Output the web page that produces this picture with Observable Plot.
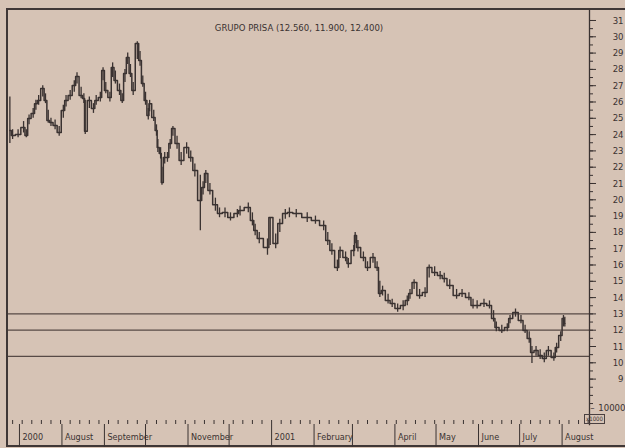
<!DOCTYPE html>
<html>
<head>
<meta charset="utf-8">
<script src="https://cdn.jsdelivr.net/npm/d3@7"></script>
<script src="https://cdn.jsdelivr.net/npm/@observablehq/plot@0.6"></script>
<style>
  html, body { margin: 0; padding: 0; background: #d6c3b5; }
  #wrap { position: relative; width: 625px; height: 448px; overflow: hidden; background: #d6c3b5; }
  #border { position: absolute; left: 6px; top: 8px; width: 660px; height: 435px; border: 2px solid #3f3736; border-right: none; }
  #chart { position: absolute; left: 0; top: 0; }
  #unit { position: absolute; left: 584px; top: 414px; font: 6px "DejaVu Sans Condensed", sans-serif; color: #3a3232; border: 1px solid #4a4040; padding: 0 1px; line-height: 8px; }
</style>
</head>
<body>
<div id="wrap">
  <div id="border"></div>
  <div id="chart"></div>
  <div id="unit">x1000</div>
</div>
<script>
const title = "GRUPO PRISA (12.560, 11.900, 12.400)";

const dates = [
  "2000-06-24","2000-06-26","2000-06-30","2000-07-04","2000-07-06","2000-07-08","2000-07-11","2000-07-13",
  "2000-07-15","2000-07-18","2000-07-20","2000-07-22","2000-07-24","2000-07-27","2000-07-30","2000-08-02",
  "2000-08-04","2000-08-07","2000-08-10","2000-08-12","2000-08-15","2000-08-17","2000-08-18","2000-08-21",
  "2000-08-24","2000-08-26","2000-08-29","2000-08-31","2000-09-02","2000-09-05","2000-09-07","2000-09-09",
  "2000-09-12","2000-09-14","2000-09-16","2000-09-18","2000-09-20","2000-09-22","2000-09-25","2000-09-27",
  "2000-09-29","2000-10-01","2000-10-03","2000-10-04","2000-10-07","2000-10-09","2000-10-10","2000-10-12",
  "2000-10-13","2000-10-15","2000-10-17","2000-10-19","2000-10-21","2000-10-24","2000-10-27","2000-10-31",
  "2000-11-03","2000-11-06","2000-11-10","2000-11-12","2000-11-14","2000-11-17","2000-11-21","2000-11-24",
  "2000-11-28","2000-12-02","2000-12-07","2000-12-09","2000-12-15","2000-12-18","2000-12-20","2000-12-23",
  "2000-12-29","2000-12-31","2001-01-04","2001-01-07","2001-01-11","2001-01-14","2001-01-19","2001-01-27",
  "2001-02-02","2001-02-08","2001-02-11","2001-02-14","2001-02-18","2001-02-20","2001-02-24","2001-02-26",
  "2001-03-02","2001-03-03","2001-03-05","2001-03-09","2001-03-12","2001-03-16","2001-03-19","2001-03-21",
  "2001-03-23","2001-03-27","2001-03-30","2001-04-03","2001-04-07","2001-04-10","2001-04-12","2001-04-15",
  "2001-04-19","2001-04-23","2001-04-26","2001-04-30","2001-05-04","2001-05-07","2001-05-11","2001-05-16",
  "2001-05-20","2001-05-25","2001-05-28","2001-05-31","2001-06-05","2001-06-09","2001-06-12","2001-06-14",
  "2001-06-18","2001-06-22","2001-06-24","2001-06-28","2001-07-02","2001-07-05","2001-07-08","2001-07-10",
  "2001-07-13","2001-07-16","2001-07-19","2001-07-22","2001-07-26","2001-07-28","2001-07-31","2001-08-02",
  "2001-08-03"
];
const closes = [
  24.25,23.94,24.0,24.44,23.94,24.99,25.29,25.9,
  26.09,26.83,26.09,24.87,24.74,24.56,24.13,25.48,
  26.09,26.4,27.01,27.56,26.4,26.21,24.2,26.09,
  25.6,26.09,26.28,27.93,26.71,26.28,28.12,27.32,
  26.71,26.09,27.75,28.73,27.75,26.71,29.59,28.55,
  27.13,26.09,25.17,25.9,25.05,24.25,23.21,22.84,
  21.06,22.6,22.6,23.45,24.37,23.45,22.41,23.21,
  22.6,21.8,19.96,20.75,21.61,20.57,19.7,19.16,
  19.22,18.91,19.16,19.34,19.53,18.73,18.12,17.63,
  17.07,18.91,17.32,18.55,19.16,19.22,19.16,18.91,
  18.73,18.42,17.5,16.89,15.85,16.89,16.46,16.09,
  16.89,17.81,17.07,16.46,15.85,16.46,15.85,14.25,
  14.44,13.82,13.64,13.33,13.52,13.82,14.25,14.93,
  14.13,14.31,15.85,15.54,15.36,15.17,14.74,14.13,
  14.25,14.01,13.52,13.52,13.64,13.52,12.72,12.17,
  11.98,12.17,12.72,13.09,12.6,11.98,11.49,10.63,
  10.75,10.45,10.26,10.75,10.33,10.94,11.67,12.72,
  12.41
];
const highs = [
  26.3,24.3,24.3,24.8,24.3,25.2,25.6,26.1,
  26.4,27.0,26.5,25.5,25.0,24.9,24.5,25.8,
  26.4,26.7,27.3,27.8,26.9,26.5,26.1,26.3,
  25.9,26.4,26.6,28.1,27.2,26.6,28.4,27.9,
  27.1,26.5,28.0,29.0,28.3,27.2,29.7,29.1,
  27.6,26.6,25.6,26.1,25.5,24.6,23.7,23.2,
  22.0,22.9,22.9,23.7,24.5,23.9,22.9,23.5,
  23.0,22.2,21.5,21.1,21.8,21.0,20.1,19.5,
  19.5,19.2,19.4,19.6,19.8,19.2,18.5,18.0,
  17.6,18.9,17.9,18.8,19.4,19.5,19.4,19.2,
  19.0,18.7,18.0,17.3,16.3,17.1,16.8,16.4,
  17.2,18.0,17.5,16.8,16.2,16.7,16.2,15.0,
  14.7,14.2,13.9,13.6,13.8,14.1,14.5,15.1,
  14.5,14.6,16.0,15.9,15.6,15.5,15.1,14.5,
  14.5,14.3,13.9,13.8,13.9,13.8,13.2,12.5,
  12.3,12.4,12.9,13.3,12.9,12.3,11.9,11.0,
  11.0,10.8,10.6,11.0,10.6,11.2,11.9,12.9,
  12.8
];
const lows = [
  23.45,23.7,23.8,24.1,23.8,24.6,25.0,25.5,
  25.8,26.3,25.9,24.7,24.5,24.3,23.9,25.0,
  25.7,26.1,26.6,27.1,26.2,25.9,24.0,25.6,
  25.3,25.8,26.0,27.3,26.5,26.0,27.5,27.1,
  26.4,25.9,27.2,28.3,27.5,26.4,28.6,28.2,
  26.9,25.8,24.9,25.4,24.8,23.9,22.9,22.5,
  20.9,22.2,22.3,23.1,23.9,23.1,22.1,22.8,
  22.3,21.4,18.1,20.3,21.0,20.3,19.3,18.9,
  18.9,18.7,18.9,19.0,19.2,18.4,17.8,17.3,
  16.6,17.2,17.0,18.0,18.8,18.9,18.9,18.6,
  18.5,18.1,17.2,16.6,15.6,16.4,16.2,15.8,
  16.5,17.3,16.8,16.2,15.6,16.1,15.6,14.0,
  14.1,13.6,13.4,13.1,13.2,13.5,13.9,14.5,
  13.9,14.0,15.2,15.3,15.1,14.9,14.5,13.9,
  14.0,13.8,13.3,13.3,13.4,13.3,12.5,11.9,
  11.8,11.9,12.4,12.8,12.4,11.8,11.2,9.95,
  10.4,10.2,10.0,10.4,10.1,10.6,11.3,12.2,
  12.2
];

const levels = [13.0, 12.0, 10.4];

const priceTicks = [9,10,11,12,13,14,15,16,17,18,19,20,21,22,23,24,25,26,27,28,29,30,31];
const monthTicks = ["2000-07-01","2000-08-01","2000-09-01","2000-10-01","2000-11-01","2000-12-01","2001-01-01",
                    "2001-02-01","2001-03-01","2001-04-01","2001-05-01","2001-06-01","2001-07-01","2001-08-01"];
const monthLabels = ["2000","August","September","","November","","2001","February","","April","May","June","July","August"];
const volumeTickLabel = "10000";

const parse = d3.utcParse("%Y-%m-%d");
const prices = dates.map((d, i) => ({date: parse(d), close: closes[i], high: highs[i], low: lows[i]}));
const months = monthTicks.map((d, i) => ({date: parse(d), label: monthLabels[i]}));
const x0 = parse("2000-06-23"), x1 = parse("2001-08-21");
const weeks = d3.utcMonday.range(parse("2000-06-26"), x1);
const minorTicks = d3.range(7.5, 31.01, 0.5);

const font = '"DejaVu Sans Condensed", "Liberation Sans Narrow", sans-serif';
const ink = "#3a3231";

const chart = Plot.plot({
  width: 625,
  height: 448,
  marginTop: 10,
  marginBottom: 24,
  marginLeft: 8,
  marginRight: 36,
  style: {background: "transparent", fontFamily: font, fontSize: "9.5px", color: ink},
  x: {type: "utc", domain: [x0, x1]},
  y: {domain: [6.215, 31.613]},
  marks: [
    Plot.ruleY(levels, {stroke: "#574a46", strokeWidth: 1.3}),
    Plot.ruleX(prices, {x: "date", y1: "low", y2: "high", stroke: ink, strokeWidth: 1.3}),
    Plot.line(prices, {x: "date", y: "close", curve: "step", stroke: ink, strokeWidth: 1.5}),
    Plot.axisY({anchor: "right", ticks: minorTicks, tickSize: 3, tickFormat: () => "", label: null, stroke: ink}),
    Plot.axisY({anchor: "right", ticks: priceTicks, tickSize: 6, tickPadding: 28, textAnchor: "end",
                tickFormat: d => String(d), label: null, stroke: ink, fill: ink}),
    Plot.axisX({anchor: "bottom", ticks: months.map(d => d.date), tickSize: 23, tickFormat: () => "", label: null, stroke: ink}),
    Plot.axisX({anchor: "bottom", ticks: weeks, tickSize: -4, tickFormat: () => "", label: null, stroke: ink}),
    Plot.text(months, {x: "date", text: "label", frameAnchor: "bottom", dy: 15, dx: 3, textAnchor: "start", fill: ink, fontSize: 9}),
    Plot.text([title], {text: d => d, frameAnchor: "top", dy: 14, fill: ink, fontSize: 9.5}),
    Plot.text([volumeTickLabel], {text: d => d, frameAnchor: "bottom-right", dx: 36, dy: -14, textAnchor: "end", fill: ink}),
    Plot.text(["\u2013"], {text: d => d, frameAnchor: "bottom-right", dx: 5, dy: -14, fill: ink}),
    Plot.frame({anchor: "right", stroke: ink, strokeWidth: 1.3})
  ]
});
document.getElementById("chart").appendChild(chart);
</script>
</body>
</html>
